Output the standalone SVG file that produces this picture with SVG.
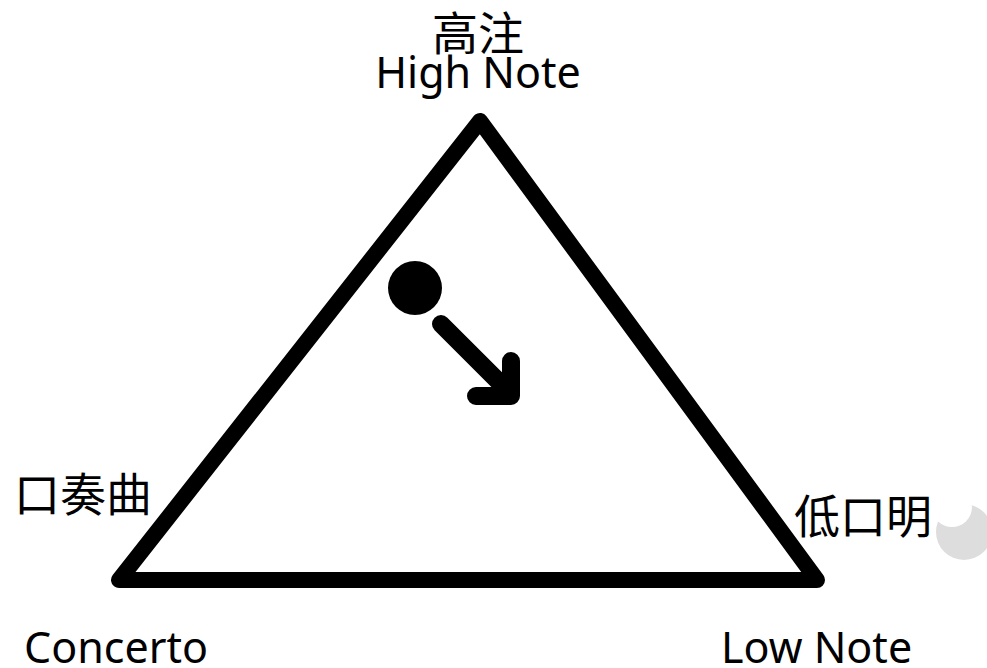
<svg xmlns="http://www.w3.org/2000/svg" width="987" height="668" viewBox="0 0 987 668">
<style>
.t{font-family:"Noto Sans","Noto Sans CJK SC",sans-serif;font-size:43px;fill:#000}
.c{font-family:"Noto Sans CJK SC","Noto Sans",sans-serif;font-size:46px;fill:#000}
.s{fill:none;stroke:#000;stroke-linejoin:round;stroke-linecap:round}
</style>
<defs>
<mask id="bite">
<rect width="987" height="668" fill="#fff"/>
<circle cx="952" cy="507" r="20" fill="#000"/>
</mask>
</defs>
<rect width="987" height="668" fill="#fff"/>
<g id="decor">
<circle cx="964" cy="532" r="28" fill="#ddd" mask="url(#bite)"/>
</g>
<g id="connectors">
<polygon class="s" stroke-width="16" points="480,121 119,580 817,580"/>
<g id="arrow">
<path class="s" stroke-width="18" d="M441,324 L506,389 M476,396 L511,396 L511,361"/>
</g>
</g>
<g id="ball"><circle cx="415" cy="288" r="27" fill="#000"/></g>
<g id="top-label">
<text class="c" x="478" y="50" text-anchor="middle">高注</text>
<text class="t" x="478" y="88" text-anchor="middle">High Note</text>
</g>
<g id="left-label">
<text class="c" x="14" y="511">口奏曲</text>
<text class="t" x="24" y="663">Concerto</text>
</g>
<g id="right-label">
<text class="c" x="794" y="533">低口明</text>
<text class="t" x="721" y="663">Low Note</text>
</g>
</svg>
